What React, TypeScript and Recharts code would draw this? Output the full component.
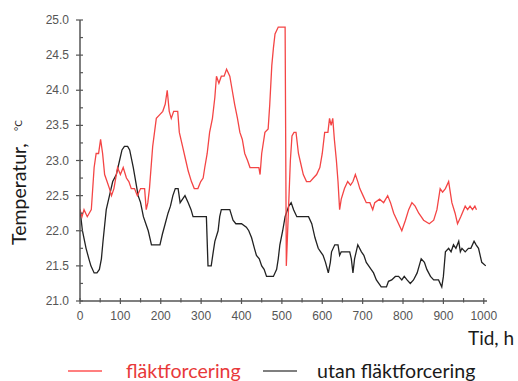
import React from "react";
import { LineChart, Line, XAxis, YAxis } from "recharts";

// hours / temperatures
const redHours = [0, 5, 10, 18, 28, 35, 40, 46, 51, 56, 61, 67, 73, 78, 84, 93, 100, 107, 115, 121, 127, 135, 142, 150, 160, 164, 168, 172, 180, 189, 197, 205, 211, 216, 221, 226, 232, 242, 246, 254, 262, 268, 276, 283, 292, 299, 305, 309, 315, 321, 328, 334, 338, 344, 350, 357, 363, 371, 377, 383, 390, 396, 402, 408, 415, 421, 432, 443, 446, 450, 458, 466, 470, 475, 479, 483, 491, 500, 508, 511, 517, 521, 525, 530, 535, 541, 547, 553, 561, 570, 578, 586, 594, 600, 606, 614, 618, 622, 626, 630, 635, 639, 643, 647, 655, 663, 670, 676, 682, 688, 693, 701, 709, 718, 725, 730, 742, 752, 762, 769, 777, 789, 797, 806, 814, 822, 830, 839, 845, 851, 865, 876, 884, 892, 898, 905, 913, 921, 929, 935, 943, 954, 960, 966, 972, 978, 982];
const redTemps = [22.3, 22.2, 22.3, 22.2, 22.3, 22.9, 23.1, 23.1, 23.3, 23.1, 22.8, 22.7, 22.6, 22.5, 22.6, 22.9, 22.8, 22.9, 22.75, 22.7, 22.6, 22.6, 22.5, 22.6, 22.6, 22.3, 22.4, 22.6, 23.2, 23.6, 23.65, 23.7, 23.8, 24.0, 23.7, 23.6, 23.7, 23.7, 23.4, 23.2, 23.0, 22.85, 22.7, 22.6, 22.6, 22.7, 22.75, 22.9, 23.1, 23.4, 23.6, 23.9, 24.2, 24.1, 24.2, 24.2, 24.3, 24.2, 24.0, 23.8, 23.6, 23.4, 23.3, 23.1, 23.0, 22.9, 22.9, 22.9, 22.8, 23.1, 23.4, 23.45, 23.8, 24.35, 24.6, 24.8, 24.9, 24.9, 24.9, 21.5, 22.4, 23.0, 23.35, 23.4, 23.4, 23.1, 22.95, 22.8, 22.7, 22.7, 22.75, 22.8, 22.9, 23.1, 23.4, 23.4, 23.6, 23.5, 23.6, 23.3, 23.0, 22.7, 22.3, 22.45, 22.6, 22.7, 22.65, 22.7, 22.8, 22.7, 22.6, 22.5, 22.4, 22.4, 22.3, 22.4, 22.45, 22.4, 22.5, 22.4, 22.25, 22.1, 22.0, 22.15, 22.3, 22.4, 22.35, 22.25, 22.2, 22.15, 22.1, 22.15, 22.3, 22.6, 22.55, 22.6, 22.7, 22.4, 22.25, 22.1, 22.2, 22.35, 22.3, 22.35, 22.3, 22.35, 22.3];

const blackHours = [0, 6, 15, 22, 27, 35, 42, 48, 53, 57, 65, 73, 81, 90, 98, 104, 110, 118, 123, 132, 138, 144, 150, 157, 163, 169, 177, 190, 198, 204, 211, 218, 224, 230, 236, 243, 248, 254, 260, 268, 275, 280, 300, 313, 317, 325, 330, 334, 342, 346, 350, 360, 371, 379, 386, 392, 400, 412, 418, 425, 432, 437, 444, 450, 456, 462, 470, 479, 487, 491, 495, 502, 508, 517, 523, 529, 537, 545, 566, 574, 582, 590, 596, 602, 608, 615, 620, 623, 631, 639, 643, 647, 668, 672, 676, 680, 684, 688, 697, 703, 709, 715, 721, 727, 734, 740, 746, 759, 764, 772, 781, 789, 797, 803, 810, 818, 826, 835, 840, 845, 853, 859, 868, 876, 888, 896, 900, 905, 913, 919, 925, 931, 938, 942, 946, 954, 962, 968, 976, 981, 987, 995, 1005];
const blackTemps = [22.3, 22.0, 21.75, 21.6, 21.5, 21.4, 21.4, 21.45, 21.6, 21.85, 22.3, 22.5, 22.7, 22.8, 23.0, 23.15, 23.2, 23.2, 23.15, 22.9, 22.7, 22.5, 22.4, 22.2, 22.1, 22.0, 21.8, 21.8, 21.8, 21.95, 22.1, 22.25, 22.35, 22.5, 22.6, 22.6, 22.4, 22.45, 22.5, 22.4, 22.3, 22.2, 22.2, 22.2, 21.5, 21.5, 21.7, 21.85, 22.0, 22.2, 22.3, 22.3, 22.3, 22.15, 22.1, 22.1, 22.1, 22.05, 22.0, 21.9, 21.75, 21.65, 21.6, 21.5, 21.45, 21.35, 21.35, 21.35, 21.45, 21.6, 21.8, 22.0, 22.2, 22.35, 22.4, 22.3, 22.2, 22.2, 22.2, 22.1, 21.9, 21.75, 21.7, 21.65, 21.55, 21.4, 21.55, 21.7, 21.8, 21.8, 21.65, 21.7, 21.7, 21.6, 21.4, 21.6, 21.7, 21.8, 21.7, 21.65, 21.55, 21.5, 21.45, 21.4, 21.3, 21.25, 21.2, 21.2, 21.28, 21.3, 21.35, 21.35, 21.3, 21.35, 21.3, 21.25, 21.3, 21.4, 21.5, 21.6, 21.55, 21.45, 21.35, 21.3, 21.3, 21.2, 21.35, 21.7, 21.75, 21.7, 21.8, 21.75, 21.85, 21.7, 21.75, 21.7, 21.75, 21.75, 21.85, 21.8, 21.75, 21.55, 21.5];

const xTicks = [0, 50, 100, 150, 200, 250, 300, 350, 400, 450, 500, 550, 600, 650, 700, 750, 800, 850, 900, 950, 1000];
const yTicks = [21, 21.25, 21.5, 21.75, 22, 22.25, 22.5, 22.75, 23, 23.25, 23.5, 23.75, 24, 24.25, 24.5, 24.75, 25];

const redData = redHours.map((h, i) => ({ h, t: redTemps[i] }));
const blackData = blackHours.map((h, i) => ({ h, t: blackTemps[i] }));

const axisColor = "#555";
const tickFont = { fontFamily: "Liberation Sans", fontSize: 12, fill: "#555" };
const labelFont = "Lato";

function YTick(props: any) {
  const { x, y, payload } = props;
  const v = payload.value;
  const major = Math.abs(v * 2 - Math.round(v * 2)) < 1e-6;
  return (
    <g>
      <line x1={major ? x - 4 : x} x2={x + 3} y1={y} y2={y} stroke={axisColor} strokeWidth={1.2} />
      {major && (
        <text x={x - 11} y={y} dy={4} textAnchor="end" {...tickFont}>
          {v.toFixed(1)}
        </text>
      )}
    </g>
  );
}

function XTick(props: any) {
  const { x, y, payload } = props;
  const v = payload.value;
  const major = v % 100 === 0;
  return (
    <g>
      <line x1={x} x2={x} y1={major ? y + 3 : y + 1.5} y2={y - 3} stroke={axisColor} strokeWidth={1.2} />
      {major && (
        <text x={x} y={y + 19} textAnchor="middle" {...tickFont}>
          {v}
        </text>
      )}
    </g>
  );
}

export default function App() {
  return (
    <div style={{ position: "absolute", left: 0, top: 0, width: 518, height: 381, background: "#fff" }}>
      <LineChart width={518} height={381} margin={{ top: 20, right: 31, bottom: 50, left: 0 }}>
        <XAxis
          dataKey="h"
          type="number"
          domain={[0, 1008]}
          ticks={xTicks}
          interval={0}
          allowDataOverflow
          height={30}
          tickSize={0}
          tickMargin={0}
          tickLine={false}
          tick={<XTick />}
          axisLine={{ stroke: axisColor, strokeWidth: 1.5 }}
        />
        <XAxis
          xAxisId="top"
          orientation="top"
          dataKey="h"
          type="number"
          domain={[0, 1008]}
          height={0}
          tick={false}
          tickLine={false}
          axisLine={{ stroke: "#666", strokeWidth: 1.5 }}
        />
        <YAxis
          type="number"
          domain={[21, 25]}
          ticks={yTicks}
          interval={0}
          allowDataOverflow
          width={80}
          tickSize={0}
          tickMargin={0}
          tickLine={false}
          tick={<YTick />}
          axisLine={{ stroke: axisColor, strokeWidth: 1.5 }}
        />
        <YAxis
          yAxisId="right"
          orientation="right"
          domain={[21, 25]}
          width={0}
          tick={false}
          tickLine={false}
          axisLine={{ stroke: "#666", strokeWidth: 1.5 }}
        />
        <Line data={blackData} dataKey="t" type="linear" stroke="#222" strokeWidth={1.3} dot={false} isAnimationActive={false} />
        <Line data={redData} dataKey="t" type="linear" stroke="#f44545" strokeWidth={1.3} dot={false} isAnimationActive={false} />
      </LineChart>
      <svg width={518} height={381} style={{ position: "absolute", left: 0, top: 0, pointerEvents: "none" }}>
        <text transform="translate(26,245) rotate(-90)" fontFamily={labelFont} fontSize={19.5} fill="#1a1a1a">
          Temperatur,
        </text>
        <text transform="translate(22,131) rotate(-90)" fontFamily={labelFont} fontSize={10} fill="#1a1a1a">
          °C
        </text>
        <text x={468} y={345} fontFamily={labelFont} fontSize={19} fill="#1a1a1a">
          Tid, h
        </text>
        <line x1={68} x2={102} y1={371} y2={371} stroke="#f55" strokeWidth={1.3} />
        <text x={126} y={378} fontFamily={labelFont} fontSize={19.6} fill="#e8393a">
          fläktforcering
        </text>
        <line x1={263} x2={297} y1={371} y2={371} stroke="#555" strokeWidth={1.3} />
        <text x={317} y={378} fontFamily={labelFont} fontSize={19.6} fill="#1a1a1a">
          utan fläktforcering
        </text>
      </svg>
    </div>
  );
}
